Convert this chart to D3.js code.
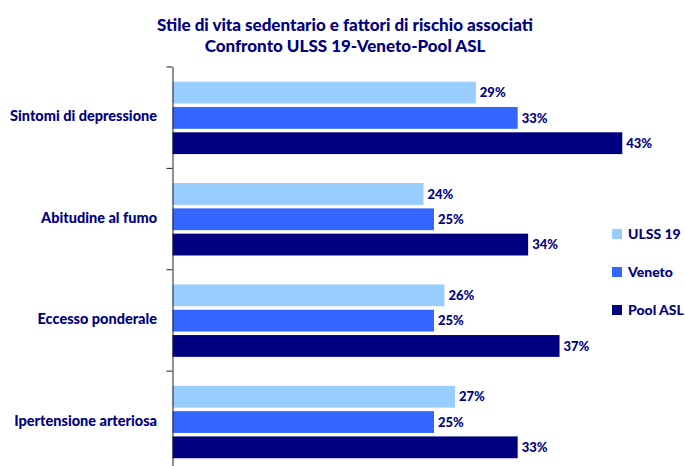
<!DOCTYPE html>
<html>
<head>
<meta charset="utf-8">
<script src="https://cdn.jsdelivr.net/npm/d3@7"></script>
<style>
  html, body { margin: 0; padding: 0; background: #fff; }
  svg { display: block; }
  text { font-family: Lato, "Open Sans", "DejaVu Sans", sans-serif; font-weight: 900; fill: #000080; }
</style>
</head>
<body>
<svg id="chart" width="685" height="466"></svg>
<script>
// Categories and series values (percentages)
const categories = ["Sintomi di depressione", "Abitudine al fumo", "Eccesso ponderale", "Ipertensione arteriosa"];
const seriesNames = ["ULSS 19", "Veneto", "Pool ASL"];
const ulss19 = [29, 24, 26, 27];
const veneto = [33, 25, 25, 25];
const poolAsl = [43, 34, 37, 33];
const seriesColors = ["#99CCFF", "#3366FF", "#000080"];
const titleLines = ["Stile di vita sedentario e fattori di rischio associati", "Confronto ULSS 19-Veneto-Pool ASL"];

const seriesValues = [ulss19, veneto, poolAsl];
const rows = categories.map((c, i) => ({
  category: c,
  values: seriesNames.map((s, j) => ({ series: s, value: seriesValues[j][i], color: seriesColors[j] }))
}));

const svg = d3.select("#chart");
const plotLeft = 172.5, plotTop = 66.5, plotBottom = 472;

const x = d3.scaleLinear().domain([0, 50]).range([plotLeft, plotLeft + 523]);
const y = d3.scaleBand().domain(categories).range([plotTop, plotBottom]).paddingInner(0).paddingOuter(0);
const ySeries = d3.scaleBand().domain(seriesNames).range([15.2, 87.6]).paddingInner(0.138);

// Title
svg.selectAll("text.title").data(titleLines).join("text")
  .attr("class", "title")
  .attr("x", 345)
  .attr("y", (d, i) => 31 + i * 21)
  .attr("text-anchor", "middle")
  .style("font-size", "17px")
  .text(d => d);

// Bars
const groups = svg.selectAll("g.cat").data(rows).join("g")
  .attr("class", "cat")
  .attr("transform", d => `translate(0,${y(d.category)})`);

groups.selectAll("rect").data(d => d.values).join("rect")
  .attr("x", x(0))
  .attr("y", d => ySeries(d.series))
  .attr("width", d => x(d.value) - x(0))
  .attr("height", ySeries.bandwidth())
  .attr("fill", d => d.color);

groups.selectAll("text.val").data(d => d.values).join("text")
  .attr("class", "val")
  .attr("x", d => x(d.value) + 4)
  .attr("y", d => ySeries(d.series) + ySeries.bandwidth() / 2)
  .attr("dy", "0.36em")
  .style("font-size", "13px")
  .text(d => d.value + "%");

// Category labels
svg.selectAll("text.cat").data(categories).join("text")
  .attr("class", "cat")
  .attr("x", 157)
  .attr("y", d => y(d) + y.bandwidth() / 2 - 1)
  .attr("dy", "0.36em")
  .attr("text-anchor", "end")
  .style("font-size", "14.5px")
  .text(d => d);

// Vertical axis with ticks at category boundaries
const yBound = d3.scaleLinear().domain([0, categories.length]).range([plotTop, plotBottom]);
const axis = svg.append("g")
  .attr("transform", `translate(${plotLeft},0)`)
  .call(d3.axisLeft(yBound).tickValues(d3.range(categories.length + 1)).tickFormat("").tickSize(6).tickSizeOuter(0));
axis.selectAll("path, line").attr("stroke", "#222");

// Legend
const legend = svg.selectAll("g.legend").data(seriesNames).join("g")
  .attr("class", "legend")
  .attr("transform", (d, i) => `translate(612,${229 + i * 38})`);
legend.append("rect")
  .attr("width", 10).attr("height", 10)
  .attr("fill", (d, i) => seriesColors[i]);
legend.append("text")
  .attr("x", 16).attr("y", 5).attr("dy", "0.36em")
  .style("font-size", "14px")
  .text(d => d);
</script>
</body>
</html>
